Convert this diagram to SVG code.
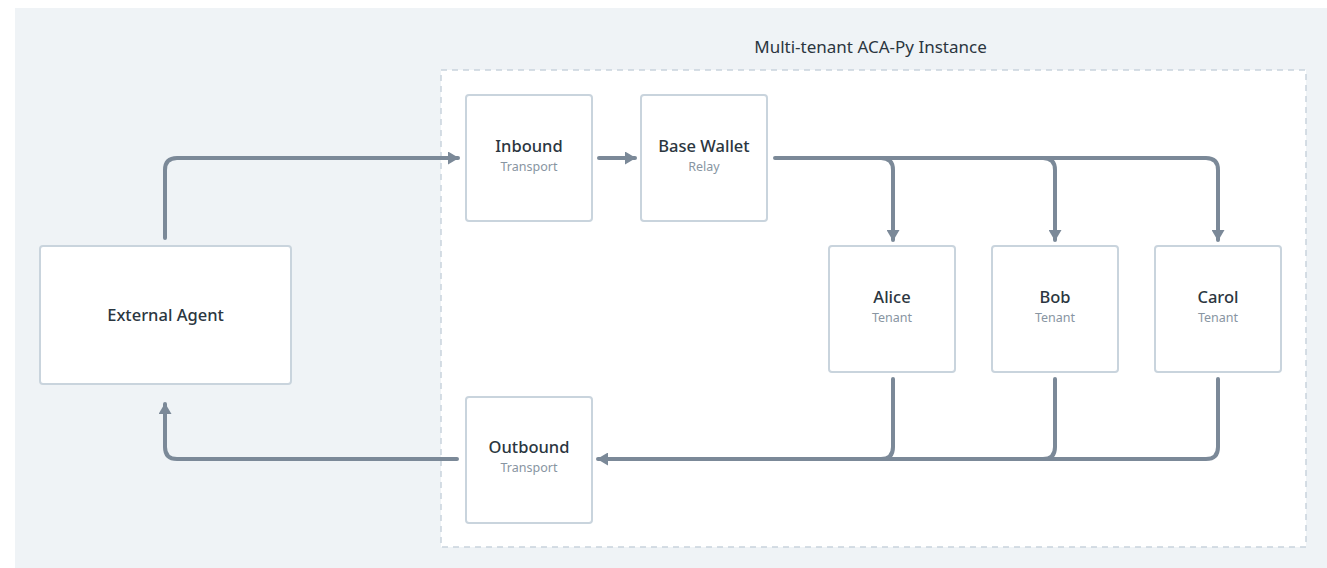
<svg xmlns="http://www.w3.org/2000/svg" width="1327" height="568" viewBox="0 0 1327 568">
<style>
.node rect{fill:#ffffff;stroke:#c9d4dd;stroke-width:2}
.t{font-family:"Noto Sans","DejaVu Sans",sans-serif;font-size:16.5px;font-weight:500;fill:#2b3640;text-anchor:middle}
.s{font-family:"Noto Sans","DejaVu Sans",sans-serif;font-size:12.5px;fill:#8895a2;text-anchor:middle}
.c{fill:none;stroke:#7b8998;stroke-width:4;stroke-linecap:round;stroke-linejoin:round}
</style>
<defs>
<marker id="ah" viewBox="0 0 11 13" refX="10" refY="6.5" markerWidth="11" markerHeight="13" markerUnits="userSpaceOnUse" orient="auto">
<path d="M0,0 L11,6.5 L0,13 Z" fill="#7b8998"/>
</marker>
</defs>
<rect x="15" y="8" width="1312" height="560" fill="#eff3f6"/>
<g id="container">
<rect x="441" y="70" width="865" height="477" fill="#ffffff" stroke="#c9d4dd" stroke-width="1.5" stroke-dasharray="6,5"/>
<text x="870.5" y="53" font-family="Noto Sans, DejaVu Sans, sans-serif" font-size="17" fill="#2b3640" text-anchor="middle">Multi-tenant ACA-Py Instance</text>
</g>
<g id="connectors">
<path class="c" marker-end="url(#ah)" d="M165,238 V170 Q165,158 177,158 H458"/>
<path class="c" marker-end="url(#ah)" d="M599,158 H635"/>
<path class="c" marker-end="url(#ah)" d="M775,158 H881 Q893,158 893,170 V240"/>
<path class="c" marker-end="url(#ah)" d="M881,158 H1043 Q1055,158 1055,170 V240"/>
<path class="c" marker-end="url(#ah)" d="M1043,158 H1206 Q1218,158 1218,170 V240"/>
<path class="c" d="M1218,379 V447 Q1218,459 1206,459 H1043"/>
<path class="c" d="M1055,379 V447 Q1055,459 1043,459 H881"/>
<path class="c" marker-end="url(#ah)" d="M893,379 V447 Q893,459 881,459 H598"/>
<path class="c" marker-end="url(#ah)" d="M457,459 H177 Q165,459 165,447 V404"/>
</g>
<g id="external" class="node">
<rect x="40" y="246" width="251" height="138" rx="3"/>
<text class="t" x="165.5" y="321">External Agent</text>
</g>
<g id="inbound" class="node">
<rect x="466" y="95" width="126" height="126" rx="3"/>
<text class="t" x="529" y="152">Inbound</text>
<text class="s" x="529" y="171">Transport</text>
</g>
<g id="basewallet" class="node">
<rect x="641" y="95" width="126" height="126" rx="3"/>
<text class="t" x="704" y="152">Base Wallet</text>
<text class="s" x="704" y="171">Relay</text>
</g>
<g id="alice" class="node">
<rect x="829" y="246" width="126" height="126" rx="3"/>
<text class="t" x="892" y="303">Alice</text>
<text class="s" x="892" y="322">Tenant</text>
</g>
<g id="bob" class="node">
<rect x="992" y="246" width="126" height="126" rx="3"/>
<text class="t" x="1055" y="303">Bob</text>
<text class="s" x="1055" y="322">Tenant</text>
</g>
<g id="carol" class="node">
<rect x="1155" y="246" width="126" height="126" rx="3"/>
<text class="t" x="1218" y="303">Carol</text>
<text class="s" x="1218" y="322">Tenant</text>
</g>
<g id="outbound" class="node">
<rect x="466" y="397" width="126" height="126" rx="3"/>
<text class="t" x="529" y="453">Outbound</text>
<text class="s" x="529" y="472">Transport</text>
</g>
</svg>
